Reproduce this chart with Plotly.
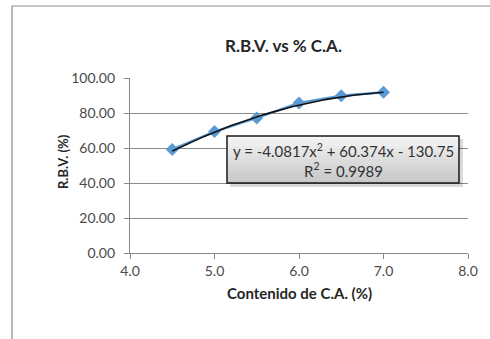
import numpy as np
import plotly.graph_objects as go

# ---- data ----
ca_content = [4.5, 5.0, 5.5, 6.0, 6.5, 7.0]
rbv_values = [59.2, 69.4, 77.2, 85.7, 89.9, 91.9]
trend_coeffs = [-4.0817, 60.374, -130.75]   # displayed poly trendline
trend_label = "y = -4.0817x<sup>2</sup> + 60.374x - 130.75"
r2_label = "R<sup>2</sup> = 0.9989"
x_ticks = [4.0, 5.0, 6.0, 7.0, 8.0]
y_ticks = [0, 20, 40, 60, 80, 100]

FONT = "Lato"
W, H = 490, 339
L, R, T, B = 130, 22, 78, 86
pw, ph = W - L - R, H - T - B

def px(x):
    return (x - L) / pw

def py(y):
    return (H - B - y) / ph

xt = np.linspace(min(ca_content), max(ca_content), 120)
yt = np.polyval(trend_coeffs, xt)

fig = go.Figure()
fig.add_trace(go.Scatter(
    x=ca_content, y=rbv_values, mode="lines+markers",
    line=dict(color="#5b9bd5", width=2.5),
    marker=dict(symbol="diamond", size=10, color="#5b9bd5"),
    showlegend=False, hoverinfo="skip"))
fig.add_trace(go.Scatter(
    x=xt, y=yt, mode="lines", line=dict(color="#111111", width=1.6),
    showlegend=False, hoverinfo="skip"))

shapes = []
# chart area border
shapes.append(dict(type="rect", xref="paper", yref="paper",
                   x0=px(12), x1=px(520), y0=py(360), y1=py(6),
                   line=dict(color="#8c8c8c", width=1.2), layer="below"))
# equation box shadow
bx0, bx1, by0, by1 = 227, 459, 136, 183
shapes.append(dict(type="rect", xref="paper", yref="paper",
                   x0=px(bx0 + 3), x1=px(bx1 + 4), y0=py(by1 + 4), y1=py(by0 + 3),
                   fillcolor="rgba(0,0,0,0.15)", line=dict(width=0), layer="above"))
# gradient fill
n = 14
for i in range(n):
    ya = by0 + (by1 - by0) * i / n
    yb = by0 + (by1 - by0) * (i + 1) / n
    g = int(245 - (245 - 200) * i / (n - 1))
    shapes.append(dict(type="rect", xref="paper", yref="paper",
                       x0=px(bx0), x1=px(bx1), y0=py(yb), y1=py(ya),
                       fillcolor=f"rgb({g},{g},{g})", line=dict(width=0), layer="above"))
shapes.append(dict(type="rect", xref="paper", yref="paper",
                   x0=px(bx0), x1=px(bx1), y0=py(by1), y1=py(by0),
                   line=dict(color="#1a1a1a", width=1.5), layer="above"))

annotations = [
    dict(text="<b>R.B.V. vs % C.A.</b>", xref="paper", yref="paper",
         x=px(283), y=py(33), showarrow=False,
         font=dict(family=FONT, size=17, color="#262626")),
    dict(text="<b>Contenido de C.A. (%)</b>", xref="paper", yref="paper",
         x=px(299), y=py(304), showarrow=False,
         font=dict(family=FONT, size=15, color="#262626")),
    dict(text="<b>R.B.V. (%)</b>", xref="paper", yref="paper",
         x=px(53), y=py(162), showarrow=False, textangle=-90,
         font=dict(family=FONT, size=13, color="#262626")),
    dict(text=trend_label + "<br>" + r2_label, xref="paper", yref="paper",
         x=px(343), y=py(160), showarrow=False, align="center",
         font=dict(family=FONT, size=15, color="#333333")),
]

fig.update_layout(
    width=W, height=H, margin=dict(l=L, r=R, t=T, b=B),
    paper_bgcolor="white", plot_bgcolor="white",
    shapes=shapes, annotations=annotations,
    xaxis=dict(range=[4, 8], tickvals=x_ticks,
               ticktext=[f"{v:.1f}" for v in x_ticks],
               showgrid=False, zeroline=False, showline=True,
               linecolor="#868686", linewidth=1.2, ticks="outside",
               ticklen=5, tickcolor="#868686",
               tickfont=dict(family=FONT, size=14, color="#4a4a4a")),
    yaxis=dict(range=[0, 100], tickvals=y_ticks,
               ticktext=[f"{v:.2f}" for v in y_ticks],
               showgrid=True, gridcolor="#8c8c8c", gridwidth=1.2,
               zeroline=False, showline=True,
               linecolor="#868686", linewidth=1.2, ticks="outside",
               ticklen=5, tickcolor="#868686",
               ticklabelstandoff=6,
               tickfont=dict(family=FONT, size=14, color="#4a4a4a")),
)

fig.write_html("out.html")
